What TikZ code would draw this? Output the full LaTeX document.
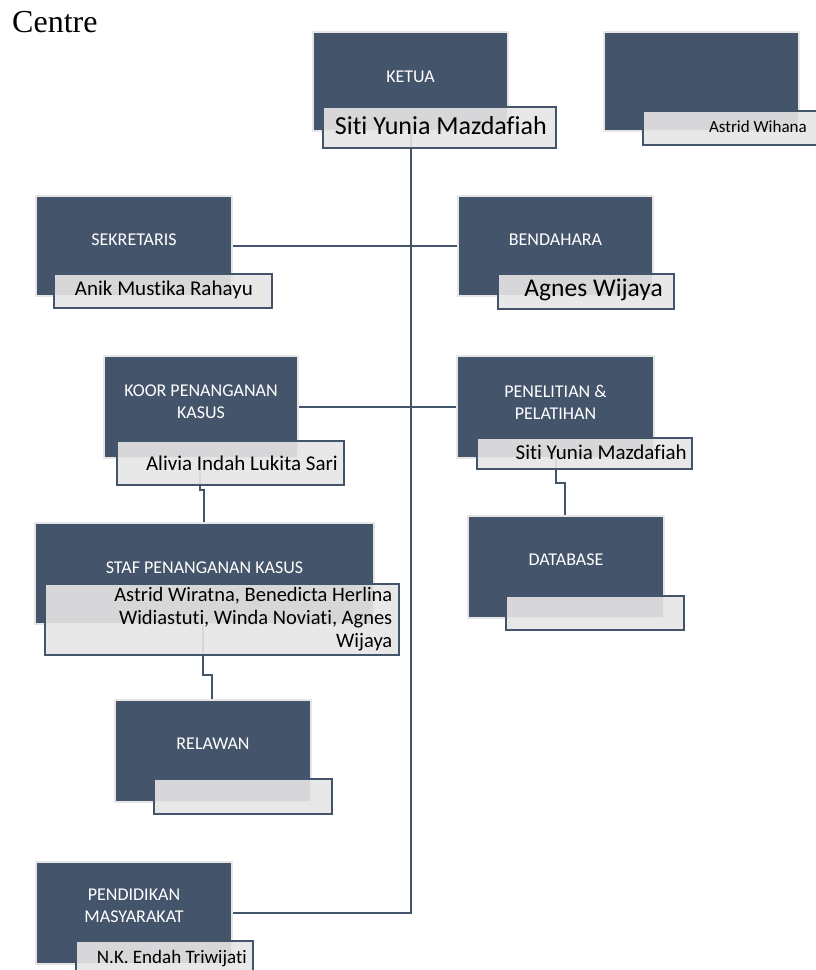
\documentclass[tikz,border=0pt]{standalone}
\usepackage{fontspec}
\setmainfont{Liberation Serif}
\newfontfamily\carl[RawFeature=-liga]{Carlito}
\usetikzlibrary{calc}
\pgfdeclarelayer{darklayer}
\pgfdeclarelayer{connlayer}
\pgfsetlayers{darklayer,connlayer,main}
\definecolor{navy}{HTML}{44546A}
\definecolor{lite}{HTML}{E7E6E6}
\tikzset{
  darkbox/.style={rectangle, fill=navy, draw=lite, line width=2pt, inner sep=0pt, anchor=north west},
  namebox/.style={rectangle, fill=lite, fill opacity=0.9, draw=navy, line width=1.6pt, inner sep=0pt, anchor=north west},
  titletext/.style={text=white, font=\carl\fontsize{18}{22}\selectfont, align=center, inner sep=0pt},
  nametext/.style={text=black, inner sep=0pt, anchor=base east},
  conn/.style={draw=navy, line width=2pt},
}
\newcommand{\fs}[1]{\carl\fontsize{#1}{#1}\selectfont}
\begin{document}
\begin{tikzpicture}[x=1pt,y=-1pt]
\useasboundingbox (0,0) rectangle (816,970);
\node[anchor=base west, inner sep=0pt, font=\fontsize{32}{36}\selectfont] (centre) at (12,32) {Centre};

\begin{pgfonlayer}{darklayer}
\node[darkbox, minimum width=195pt, minimum height=99pt] (ketua) at (312,31) {};
\node[darkbox, minimum width=195pt, minimum height=99pt] (wihana) at (603,31) {};
\node[darkbox, minimum width=196pt, minimum height=100pt] (sekr) at (35,195) {};
\node[darkbox, minimum width=195pt, minimum height=100pt] (bend) at (457,195) {};
\node[darkbox, minimum width=194pt, minimum height=102pt] (koor) at (103,355) {};
\node[darkbox, minimum width=197pt, minimum height=102pt] (pen) at (456,355) {};
\node[darkbox, minimum width=196pt, minimum height=102pt] (db) at (467,515) {};
\node[darkbox, minimum width=339pt, minimum height=101pt] (staf) at (34,522) {};
\node[darkbox, minimum width=196pt, minimum height=102pt] (rel) at (114,699) {};
\node[darkbox, minimum width=196pt, minimum height=102pt] (pend) at (35,861) {};
\end{pgfonlayer}

% titles
\node[titletext] (ketuaT) at ($(ketua.center)+(0,-5)$) {KETUA};
\node[titletext] (sekrT) at ($(sekr.center)+(0,-6)$) {SEKRETARIS};
\node[titletext] (bendT) at ($(bend.center)+(0,-6)$) {BENDAHARA};
\node[titletext] (koorT) at ($(koor.center)+(0,-5)$) {KOOR PENANGANAN\\KASUS};
\node[titletext] (penT) at ($(pen.center)+(0,-5)$) {PENELITIAN \&\\PELATIHAN};
\node[titletext] (dbT) at ($(db.center)+(0,-7)$) {DATABASE};
\node[titletext] (stafT) at ($(staf.center)+(0,-6)$) {STAF PENANGANAN KASUS};
\node[titletext] (relT) at ($(rel.center)+(0,-7)$) {RELAWAN};
\node[titletext] (pendT) at ($(pend.center)+(0,-7)$) {PENDIDIKAN\\MASYARAKAT};

% connectors
\coordinate (j1) at (200,490);
\coordinate (j1b) at (204,490);
\coordinate (j2) at (203,675);
\coordinate (j2b) at (212,675);
\coordinate (j3) at (556,483);
\coordinate (j3b) at (565,483);
\begin{pgfonlayer}{connlayer}
\draw[conn] (ketua.south) |- (pend.east);
\draw[conn] (sekr.east) -- (bend.west);
\draw[conn] (koor.east) -- (pen.west);
\draw[conn] (koor.south -| j1) -- (j1) -- (j1b) -- (staf.north -| j1b);
\draw[conn] (staf.south -| j2) -- (j2) -- (j2b) -- (rel.north -| j2b);
\draw[conn] (pen.south -| j3) -- (j3) -- (j3b) -- (db.north -| j3b);
\end{pgfonlayer}

% name boxes
\node[namebox, minimum width=233pt, minimum height=41pt] (ketuaN) at (322,106) {};
\node[namebox, minimum width=234pt, minimum height=34pt] (wihanaN) at (642,110) {};
\node[namebox, minimum width=218pt, minimum height=34pt] (sekrN) at (53,273) {};
\node[namebox, minimum width=176pt, minimum height=35pt] (bendN) at (497,273) {};
\node[namebox, minimum width=227pt, minimum height=44pt] (koorN) at (116,440) {};
\node[namebox, minimum width=215pt, minimum height=31pt] (penN) at (476,437) {};
\node[namebox, minimum width=178pt, minimum height=34pt] (dbN) at (505,595) {};
\node[namebox, minimum width=354pt, minimum height=71pt] (stafN) at (44,583) {};
\node[namebox, minimum width=178pt, minimum height=35pt] (relN) at (153,778) {};
\node[namebox, minimum width=177pt, minimum height=45pt] (pendN) at (75,940) {};

% names
\node[nametext, font=\fs{26}] (ketuaX) at (547,134) {Siti Yunia Mazdafiah};
\node[nametext, font=\fs{17}] (wihanaX) at (807,132) {Astrid Wihana};
\node[nametext, font=\fs{21}] (sekrX) at (253,295) {Anik Mustika Rahayu};
\node[nametext, font=\fs{25.5}] (bendX) at (663,296) {Agnes Wijaya};
\node[nametext, font=\fs{21}] (koorX) at (338,470) {Alivia Indah Lukita Sari};
\node[nametext, font=\fs{21}] (penX) at (687,459) {Siti Yunia Mazdafiah};
\node[text=black, inner sep=0pt, anchor=north east, align=right, font=\carl\fontsize{20.5}{23}\selectfont] (stafX) at (392.5,587) {Astrid Wiratna, Benedicta Herlina\\Widiastuti, Winda Noviati, Agnes\\Wijaya};
\node[nametext, font=\fs{19}] (pendX) at (247,963) {N.K. Endah Triwijati};
\end{tikzpicture}
\end{document}
